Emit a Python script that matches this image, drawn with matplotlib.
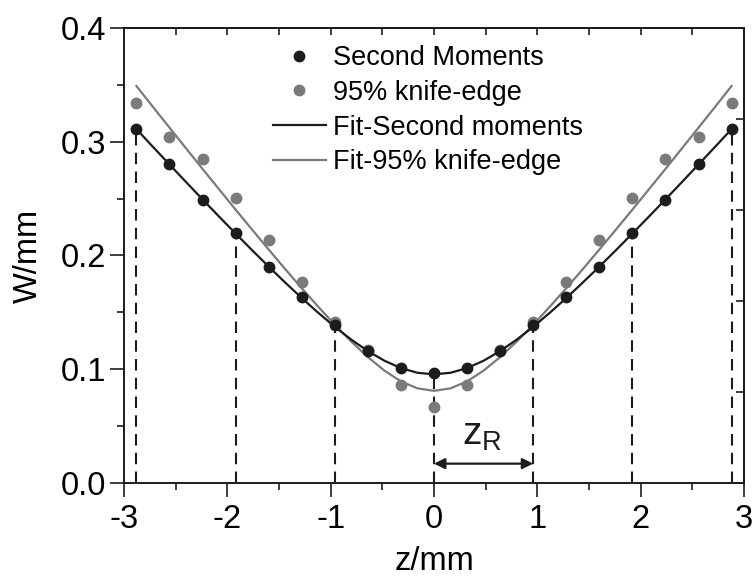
import numpy as np
import matplotlib
matplotlib.use("Agg")
import matplotlib.pyplot as plt
from matplotlib.ticker import MultipleLocator

plt.rcParams['font.family'] = ['Liberation Sans', 'DejaVu Sans']

# measured points (z in mm, W in mm)
z_pts = [-2.88, -2.56, -2.24, -1.92, -1.60, -1.28, -0.96, -0.64, -0.32, 0.0,
         0.32, 0.64, 0.96, 1.28, 1.60, 1.92, 2.24, 2.56, 2.88]
w_second = [0.311, 0.280, 0.249, 0.2195, 0.190, 0.1635, 0.139, 0.116, 0.1014, 0.0964,
            0.1014, 0.116, 0.139, 0.1635, 0.190, 0.2195, 0.249, 0.280, 0.311]
w_knife = [0.334, 0.3045, 0.285, 0.2505, 0.214, 0.177, 0.1415, 0.117, 0.0862, 0.0665,
           0.0862, 0.117, 0.1415, 0.177, 0.214, 0.2505, 0.285, 0.3045, 0.334]

# fit curves
z_fit = [-2.88, -2.72, -2.56, -2.40, -2.24, -2.08, -1.92, -1.76, -1.60, -1.44,
         -1.28, -1.12, -0.96, -0.80, -0.64, -0.48, -0.32, -0.16, 0.0,
         0.16, 0.32, 0.48, 0.64, 0.80, 0.96, 1.12, 1.28, 1.44, 1.60,
         1.76, 1.92, 2.08, 2.24, 2.40, 2.56, 2.72, 2.88]
fit_second = [0.3111, 0.2955, 0.2800, 0.2646, 0.2493, 0.2342, 0.2193, 0.2046, 0.1902, 0.1762,
              0.1626, 0.1496, 0.1373, 0.1260, 0.1160, 0.1075, 0.1010, 0.0969, 0.0955,
              0.0969, 0.1010, 0.1075, 0.1160, 0.1260, 0.1373, 0.1496, 0.1626, 0.1762, 0.1902,
              0.2046, 0.2193, 0.2342, 0.2493, 0.2646, 0.2800, 0.2955, 0.3111]
fit_knife = [0.3490, 0.3306, 0.3124, 0.2942, 0.2761, 0.2582, 0.2403, 0.2227, 0.2052, 0.1880,
             0.1712, 0.1549, 0.1391, 0.1243, 0.1107, 0.0988, 0.0893, 0.0832, 0.0810,
             0.0832, 0.0893, 0.0988, 0.1107, 0.1243, 0.1391, 0.1549, 0.1712, 0.1880, 0.2052,
             0.2227, 0.2403, 0.2582, 0.2761, 0.2942, 0.3124, 0.3306, 0.3490]

# dashed markers at multiples of z_R
z_R = 0.96
z_marks = [-2.88, -1.92, -0.96, 0.0, 0.96, 1.92, 2.88]
w_marks = [0.311, 0.2195, 0.139, 0.0964, 0.139, 0.2195, 0.311]

black = '#1c1c1c'
grey = '#7a7a7a'

fig = plt.figure(figsize=(7.54, 5.81), dpi=100)
ax = fig.add_axes([0.1645, 0.1687, 0.8222, 0.7831])

for zm, wm in zip(z_marks, w_marks):
    ax.plot([zm, zm], [0, wm], color=black, lw=1.5, ls=(0, (5.5, 3.5)), zorder=1)

ax.plot(z_fit, fit_second, color=black, lw=1.6, zorder=3, label='Fit-Second moments')
ax.plot(z_fit, fit_knife, color=grey, lw=1.6, zorder=2, label='Fit-95% knife-edge')
ax.plot(z_pts, w_second, 'o', color=black, ms=7.5, zorder=4, label='Second Moments')
ax.plot(z_pts, w_knife, 'o', color=grey, ms=7.5, zorder=2.5, label='95% knife-edge')

# z_R arrow
ax.annotate('', xy=(0, 0.017), xytext=(z_R, 0.017),
            arrowprops=dict(arrowstyle='<|-|>', color=black, lw=1.6,
                            mutation_scale=16, shrinkA=0, shrinkB=0))
ax.text(0.47, 0.026, r'z$_\mathregular{R}$', fontsize=28, ha='center', va='bottom', color=black)

ax.set_xlim(-3, 3)
ax.set_ylim(0, 0.4)
ax.xaxis.set_major_locator(MultipleLocator(1))
ax.xaxis.set_minor_locator(MultipleLocator(0.5))
ax.yaxis.set_major_locator(MultipleLocator(0.1))
ax.yaxis.set_minor_locator(MultipleLocator(0.05))
ax.xaxis.set_major_formatter(matplotlib.ticker.FuncFormatter(lambda v, p: '%d' % round(v)))
ax.yaxis.set_major_formatter(matplotlib.ticker.FormatStrFormatter('%.1f'))
ax.tick_params(axis='both', which='major', direction='out', length=10, width=1.2,
               labelsize=23.5, pad=3, color=black)
ax.tick_params(axis='both', which='minor', direction='out', length=5, width=1.2, color=black)
ax.tick_params(axis='x', which='major', pad=5)
for sp in ax.spines.values():
    sp.set_linewidth(1.4)
    sp.set_color(black)

# top and right axes carry inward ticks only
top = ax.secondary_xaxis('top')
top.set_xticks(np.arange(-3, 3.01, 0.5))
top.tick_params(direction='in', length=5, width=1.2, labeltop=False, color=black)
right = ax.secondary_yaxis('right')
right.set_yticks(np.arange(0.0, 0.41, 0.08))
right.tick_params(direction='in', length=6, width=1.2, labelright=False, color=black)
top.spines['top'].set_linewidth(1.4)
right.spines['right'].set_linewidth(1.4)

ax.set_xlabel('z/mm', fontsize=23.5, labelpad=8)
ax.set_ylabel('W/mm', fontsize=23.5, labelpad=12)

h, l = ax.get_legend_handles_labels()
order = [2, 3, 0, 1]
ax.legend([h[i] for i in order], [l[i] for i in order], loc='upper left',
          bbox_to_anchor=(0.24, 0.962), frameon=False, fontsize=19.5,
          handlelength=1.95, handletextpad=0.28, labelspacing=0.32,
          borderpad=0, borderaxespad=0, markerscale=1.0)

fig.savefig('out.png', dpi=100)
